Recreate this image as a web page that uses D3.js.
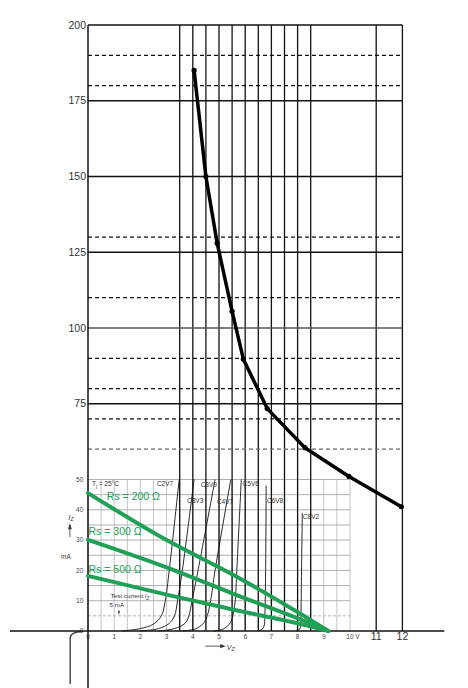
<!DOCTYPE html>
<html>
<head>
<meta charset="utf-8">
<script src="https://cdn.jsdelivr.net/npm/d3@7/dist/d3.min.js"></script>
<style>
  body { margin: 0; background: #fff; }
  svg { display: block; font-family: "Liberation Sans", Arial, sans-serif; }
</style>
</head>
<body>
<svg id="canvas"></svg>
<script>
// main curve: Vz (V) against current (mA)
let curveV = [4.05, 4.5, 4.93, 5.5, 5.93, 6.84, 8.28, 9.96, 11.96];
let curveI = [185, 150, 128, 105.5, 89.7, 73.4, 60.5, 51, 41];

let yTicks = [75, 100, 125, 150, 175, 200];
let yDashed = [60, 70, 80, 90, 110, 130, 180, 190];
let xLines = [3.5, 4, 4.5, 5, 5.5, 6, 6.5, 7, 7.5, 8, 8.5, 11, 12];
let xBigTicks = [11, 12];

// datasheet picture underneath
let sheetXTicks = ["0", "1", "2", "3", "4", "5", "6", "7", "8", "9", "10 V"];
let sheetYTicks = [0, 10, 20, 30, 40, 50];
let zenerNames = ["C2V7", "C3V3", "C3V9", "C4V7", "C5V6", "C6V8", "C8V2"];
let zenerLabelV = [2.63, 3.78, 4.3, 4.92, 5.9, 6.83, 8.2];
let zenerLabelI = [48.5, 42.9, 48.2, 42.6, 48.5, 42.9, 37.6];
let zenerCurves = [
  [[1.3, 0], [2.0, 0.8], [2.5, 2.3], [2.8, 5], [2.95, 10], [3.1, 20], [3.48, 50]],
  [[2.0, 0], [2.7, 0.8], [3.1, 2.5], [3.3, 5], [3.42, 10], [3.6, 20], [4.05, 50]],
  [[2.7, 0], [3.3, 0.8], [3.7, 2.5], [3.85, 5], [3.97, 10], [4.2, 20], [4.85, 50]],
  [[3.6, 0], [4.1, 0.7], [4.4, 2.5], [4.55, 5], [4.68, 10], [4.85, 20], [5.45, 50]],
  [[4.8, 0], [5.2, 0.8], [5.45, 3], [5.55, 6], [5.62, 10], [5.68, 20], [5.85, 50]],
  [[6.45, 0], [6.65, 0.6], [6.73, 2], [6.75, 5], [6.78, 20], [6.8, 48]],
  [[7.95, 0], [8.08, 0.6], [8.12, 2], [8.13, 5], [8.15, 20], [8.18, 39]]
];

// load lines
let rsNames = ["Rs = 200 \u03a9", "Rs = 300 \u03a9", "Rs = 500 \u03a9"];
let rsLabelV = [0.72, 0.02, 0.02];
let rsLabelI = [44.5, 32.8, 20.3];
let rsLines = [
  [[0, 45.5], [3, 30], [5.57, 18.4], [8.12, 5.6], [9.17, 0]],
  [[0, 30.1], [3, 21], [5.57, 12.2], [8.12, 3.8], [9.17, 0]],
  [[0, 18.2], [3, 12], [5.57, 7.0], [8.12, 2.3], [9.17, 0]]
];

let width = 468, height = 688;
let green = "#20a056";

let canvas = d3.select("#canvas").attr("width", width).attr("height", height);
canvas.append("rect").attr("width", width).attr("height", height).attr("fill", "#fff");

let x = d3.scaleLinear().domain([0, 12]).range([88, 402.4]);
let y = d3.scaleLinear().domain([0, 200]).range([631, 25]);

// ---- datasheet grid ----
let sheet = canvas.append("g");
sheet.selectAll(".gv")
  .data(d3.range(0, 10.01, 0.5))
  .enter()
  .append("line")
  .attr("x1", (d) => x(d)).attr("x2", (d) => x(d))
  .attr("y1", y(0)).attr("y2", y(50))
  .attr("stroke", "#c4c4c4").attr("stroke-width", 1);
sheet.selectAll(".gh")
  .data(d3.range(10, 50.01, 5))
  .enter()
  .append("line")
  .attr("x1", x(0)).attr("x2", x(10))
  .attr("y1", (d) => y(d)).attr("y2", (d) => y(d))
  .attr("stroke", "#b0b0b0").attr("stroke-width", 1);
sheet.append("line")
  .attr("x1", x(0)).attr("x2", x(10))
  .attr("y1", y(5)).attr("y2", y(5))
  .attr("stroke", "#b0b0b0").attr("stroke-dasharray", "3,2");

let zenerLine = d3.line()
  .x((d) => x(d[0]))
  .y((d) => y(d[1]))
  .curve(d3.curveCatmullRom);
sheet.selectAll(".zener")
  .data(zenerCurves)
  .enter()
  .append("path")
  .attr("d", zenerLine)
  .attr("fill", "none")
  .attr("stroke", "#2a2a2a")
  .attr("stroke-width", 1);

sheet.selectAll(".zname")
  .data(zenerNames)
  .enter()
  .append("text")
  .attr("x", (d, i) => x(zenerLabelV[i]))
  .attr("y", (d, i) => y(zenerLabelI[i]))
  .attr("dy", "0.35em")
  .attr("font-size", 6.5)
  .attr("fill", "#333")
  .text((d) => d);

sheet.selectAll(".sy")
  .data(sheetYTicks)
  .enter()
  .append("text")
  .attr("x", x(-0.18))
  .attr("y", (d) => y(d))
  .attr("dy", "0.35em")
  .attr("text-anchor", "end")
  .attr("font-size", 6.5)
  .attr("fill", "#444")
  .text((d) => d);

sheet.selectAll(".sx")
  .data(sheetXTicks)
  .enter()
  .append("text")
  .attr("x", (d, i) => x(i) + (i === 10 ? 3 : 0))
  .attr("y", y(-2))
  .attr("dy", "0.35em")
  .attr("text-anchor", "middle")
  .attr("font-size", 6.5)
  .attr("fill", "#444")
  .text((d) => d);

let tj = sheet.append("text")
  .attr("x", x(0.15)).attr("y", y(48.5)).attr("dy", "0.35em")
  .attr("font-size", 6.5).attr("fill", "#333");
tj.append("tspan").text("T");
tj.append("tspan").attr("font-size", 4.5).attr("dy", 1.5).text("j");
tj.append("tspan").attr("dy", -1.5).text(" = 25\u00b0C");

let iz = sheet.append("text")
  .attr("x", x(-0.75)).attr("y", y(37.6)).attr("dy", "0.35em")
  .attr("font-size", 7.5).attr("font-style", "italic").attr("fill", "#333");
iz.append("tspan").text("I");
iz.append("tspan").attr("font-size", 5).attr("dy", 1.5).text("Z");

sheet.append("line")
  .attr("x1", x(-0.69)).attr("x2", x(-0.69))
  .attr("y1", y(31)).attr("y2", y(35))
  .attr("stroke", "#333").attr("stroke-width", 0.8);
sheet.append("path")
  .attr("d", d3.line()([[x(-0.76), y(33.6)], [x(-0.69), y(35.6)], [x(-0.62), y(33.6)]]))
  .attr("fill", "#333");
sheet.append("text")
  .attr("x", x(-0.84)).attr("y", y(24.5)).attr("dy", "0.35em")
  .attr("text-anchor", "middle").attr("font-size", 6.5).attr("fill", "#333")
  .text("mA");

let tc = sheet.append("text")
  .attr("x", x(0.87)).attr("y", y(11.6)).attr("dy", "0.35em")
  .attr("font-size", 6.2).attr("fill", "#333");
tc.append("tspan").text("Test current ");
tc.append("tspan").attr("font-style", "italic").text("I");
tc.append("tspan").attr("font-style", "italic").attr("font-size", 4.5).attr("dy", 1.5).text("Z");
sheet.append("text")
  .attr("x", x(1.1)).attr("y", y(8.6)).attr("dy", "0.35em")
  .attr("text-anchor", "middle").attr("font-size", 6.2).attr("fill", "#333")
  .text("5 mA");
sheet.append("path")
  .attr("d", d3.line()([[x(1.14), y(6.7)], [x(1.22), y(6.7)], [x(1.18), y(5.3)]]))
  .attr("fill", "#333");

sheet.append("line")
  .attr("x1", x(4.47)).attr("x2", x(5.15))
  .attr("y1", y(-5)).attr("y2", y(-5))
  .attr("stroke", "#333").attr("stroke-width", 0.8);
sheet.append("path")
  .attr("d", d3.line()([[x(5.05), y(-4.3)], [x(5.25), y(-5)], [x(5.05), y(-5.7)]]))
  .attr("fill", "#333");
let vz = sheet.append("text")
  .attr("x", x(5.3)).attr("y", y(-5.3)).attr("dy", "0.35em")
  .attr("font-size", 7).attr("font-style", "italic").attr("fill", "#333");
vz.append("tspan").text("V");
vz.append("tspan").attr("font-size", 5).attr("dy", 1.5).text("Z");

// corner of the old axis
sheet.append("path")
  .attr("d", "M" + x(-0.23) + "," + y(-0.2) +
    " Q" + x(-0.66) + "," + y(-0.3) + " " + x(-0.68) + "," + y(-2.2) +
    " L" + x(-0.68) + "," + y(-17.5))
  .attr("fill", "none").attr("stroke", "#333").attr("stroke-width", 1.3);

// ---- black grid on top ----
let grid = canvas.append("g");
grid.selectAll(".vl")
  .data(xLines)
  .enter()
  .append("line")
  .attr("x1", (d) => x(d)).attr("x2", (d) => x(d))
  .attr("y1", y(0)).attr("y2", y(200))
  .attr("stroke", "#111").attr("stroke-width", 1.3);
grid.selectAll(".hl")
  .data(yTicks)
  .enter()
  .append("line")
  .attr("x1", x(0)).attr("x2", x(12))
  .attr("y1", (d) => y(d)).attr("y2", (d) => y(d))
  .attr("stroke", (d) => (d === 100 ? "#555" : "#111")).attr("stroke-width", 1.3);
grid.selectAll(".dl")
  .data(yDashed)
  .enter()
  .append("line")
  .attr("x1", x(0)).attr("x2", x(12))
  .attr("y1", (d) => y(d)).attr("y2", (d) => y(d))
  .attr("stroke", (d) => (d === 60 ? "#666" : "#111")).attr("stroke-width", 1.2)
  .attr("stroke-dasharray", "4,3");

// y axis runs down past the x axis
grid.append("line")
  .attr("x1", x(0)).attr("x2", x(0))
  .attr("y1", y(200)).attr("y2", height)
  .attr("stroke", "#111").attr("stroke-width", 1.5);
// x axis
grid.append("line")
  .attr("x1", x(-2.98)).attr("x2", x(13.6))
  .attr("y1", y(0)).attr("y2", y(0))
  .attr("stroke", "#111").attr("stroke-width", 1.5);

grid.selectAll(".yt")
  .data(yTicks)
  .enter()
  .append("text")
  .attr("x", x(0) - 2)
  .attr("y", (d) => y(d))
  .attr("dy", "0.35em")
  .attr("text-anchor", "end")
  .attr("font-size", 10.5)
  .attr("fill", "#333")
  .text((d) => d);

grid.selectAll(".xt")
  .data(xBigTicks)
  .enter()
  .append("text")
  .attr("x", (d) => x(d))
  .attr("y", y(-1.8))
  .attr("dy", "0.35em")
  .attr("text-anchor", "middle")
  .attr("font-size", 10.5)
  .attr("fill", "#333")
  .text((d) => d);

// ---- load lines ----
let rsLine = d3.line()
  .x((d) => x(d[0]))
  .y((d) => y(d[1]))
  .curve(d3.curveMonotoneX);
canvas.selectAll(".rs")
  .data(rsLines)
  .enter()
  .append("path")
  .attr("d", rsLine)
  .attr("fill", "none")
  .attr("stroke", green)
  .attr("stroke-width", 4)
  .attr("stroke-linecap", "round");
canvas.selectAll(".rsname")
  .data(rsNames)
  .enter()
  .append("text")
  .attr("x", (d, i) => x(rsLabelV[i]))
  .attr("y", (d, i) => y(rsLabelI[i]))
  .attr("dy", "0.35em")
  .attr("font-size", 10.5)
  .attr("fill", green)
  .text((d) => d);

// ---- main curve ----
let points = curveV.map((v, i) => [v, curveI[i]]);
canvas.append("path")
  .datum(points)
  .attr("d", d3.line().x((d) => x(d[0])).y((d) => y(d[1])))
  .attr("fill", "none")
  .attr("stroke", "#000")
  .attr("stroke-width", 3.5)
  .attr("stroke-linejoin", "round");
canvas.selectAll(".dot")
  .data(points)
  .enter()
  .append("circle")
  .attr("cx", (d) => x(d[0]))
  .attr("cy", (d) => y(d[1]))
  .attr("r", 2.6)
  .attr("fill", "#000");
</script>
</body>
</html>
